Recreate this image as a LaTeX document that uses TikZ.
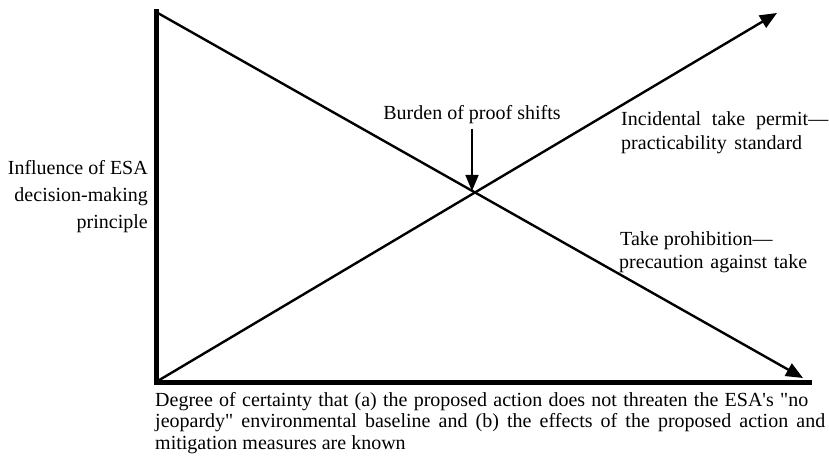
\documentclass[tikz,border=0pt]{standalone}
\usepackage{fontspec}
\setmainfont{Liberation Serif}[Ligatures=TeXOff]
\usetikzlibrary{arrows.meta}
\begin{document}
\begin{tikzpicture}[x=1pt,y=-1pt,
  axis/.style={line width=5pt},
  diag/.style={line width=2.4pt},
  tipped/.style={-{Triangle[length=17pt,width=14pt]}},
  lbl/.style={font=\fontsize{20}{24}\selectfont, inner sep=0pt}]
\useasboundingbox[fill=white] (0,0) rectangle (829,462);
% key points
\coordinate (top) at (156,12);
\coordinate (origin) at (156,382);
\coordinate (xend) at (812,382);
\coordinate (downtip) at (803,378);
\coordinate (uptip) at (777,13);
\coordinate (cross) at (472,191);
% axes
\draw[axis] (156,9.5) -- (156,384.5);
\draw[axis] (153.5,382) -- (xend);
% diagonals
\draw[diag,tipped] (top) -- (downtip);
\draw[diag,tipped] (origin) -- (uptip);
% burden label and arrow
\node[lbl,anchor=base] (burden) at (472,120) {Burden of proof shifts};
\draw[line width=1.6pt,-{Triangle[length=16pt,width=13pt]}] (burden.south |- 0,129) -- (cross);
% right labels
\node[lbl,anchor=base west] (inc1) at (621,126) {\makebox[207pt][s]{Incidental take permit—}};
\node[lbl,anchor=base west] (inc2) at (621,150) {\makebox[181pt][s]{practicability standard}};
\node[lbl,anchor=base west] (take1) at (620,245) {Take prohibition—};
\node[lbl,anchor=base west] (take2) at (619,268) {\makebox[188pt][s]{precaution against take}};
% left label
\node[lbl,anchor=base east] (inf1) at (148,175) {Influence of ESA};
\node[lbl,anchor=base east] (inf2) at (148,202) {decision-making};
\node[lbl,anchor=base east] (inf3) at (148,229) {principle};
% bottom label
\node[lbl,anchor=base west] (deg1) at (155,406) {\makebox[653pt][s]{Degree of certainty that (a) the proposed action does not threaten the ESA's "no}};
\node[lbl,anchor=base west] (deg2) at (155,427.5) {\makebox[670pt][s]{jeopardy" environmental baseline and (b) the effects of the proposed action and}};
\node[lbl,anchor=base west] (deg3) at (155,449) {mitigation measures are known};
\end{tikzpicture}
\end{document}
